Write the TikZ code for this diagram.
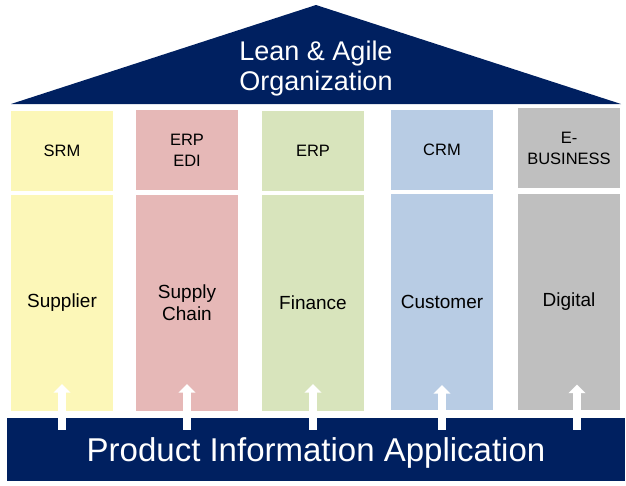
\documentclass[tikz,border=0pt]{standalone}
\usepackage{fontspec}
\setmainfont{Liberation Sans}
\usetikzlibrary{arrows.meta}

\definecolor{navy}{RGB}{0,32,96}
\definecolor{pyellow}{RGB}{252,247,184}
\definecolor{ppink}{RGB}{230,184,183}
\definecolor{pgreen}{RGB}{216,228,188}
\definecolor{pblue}{RGB}{184,204,228}
\definecolor{pgray}{RGB}{191,191,191}

\begin{document}
\begin{tikzpicture}[x=1pt,y=-1pt,
  capbox/.style={minimum width=102pt, minimum height=80pt, inner sep=0pt, align=center, font=\fontsize{16.5}{21}\selectfont},
  pillar/.style={minimum width=102pt, minimum height=216pt, inner sep=0pt, align=center, font=\fontsize{19}{22}\selectfont},
  lift/.style={white, line width=8.4pt, -{Triangle[width=16.5pt,length=8.5pt]}}]
\useasboundingbox (0,0) rectangle (626,485);
% roof
\fill[navy] (11,104) -- (316,5) -- (621,104) -- cycle;
\node[text=white, align=center, font=\fontsize{27}{30}\selectfont] (roof) at (316,69) {Lean \& Agile\\Organization};
% caps
\node[capbox, fill=pyellow] (srm) at (62,151) {SRM};
\node[capbox, fill=ppink] (erpedi) at (187,150) {ERP\\EDI};
\node[capbox, fill=pgreen] (erp) at (313,151) {ERP};
\node[capbox, fill=pblue] (crm) at (442,150) {CRM};
\node[capbox, fill=pgray] (ebiz) at (569,148) {E-\\BUSINESS};
% pillars
\node[pillar, fill=pyellow] (sup) at (62,303) {Supplier};
\node[pillar, fill=ppink] (chain) at (187,303) {Supply\\Chain};
\node[pillar, fill=pgreen] (fin) at (313,303) {Finance};
\node[pillar, fill=pblue] (cus) at (442,302) {Customer};
\node[pillar, fill=pgray] (dig) at (569,301.5) {Digital};
% base
\node[fill=navy, minimum width=618pt, minimum height=63pt, inner sep=0pt, text=white, text depth=0pt, font=\fontsize{33}{36}\selectfont] (base) at (316,449.5) {Product Information Application};
% arrows
\draw[lift] ([yshift=-12pt]base.north -| sup.south) -- ([yshift=27pt]sup.south);
\draw[lift] ([yshift=-12pt]base.north -| chain.south) -- ([yshift=27pt]chain.south);
\draw[lift] ([yshift=-12pt]base.north -| fin.south) -- ([yshift=27pt]fin.south);
\draw[lift] ([yshift=-12pt]base.north -| cus.south) -- ([yshift=25pt]cus.south);
\draw[lift] ([yshift=-12pt,xshift=8pt]base.north -| dig.south) -- ([yshift=25pt,xshift=8pt]dig.south);
\end{tikzpicture}
\end{document}
